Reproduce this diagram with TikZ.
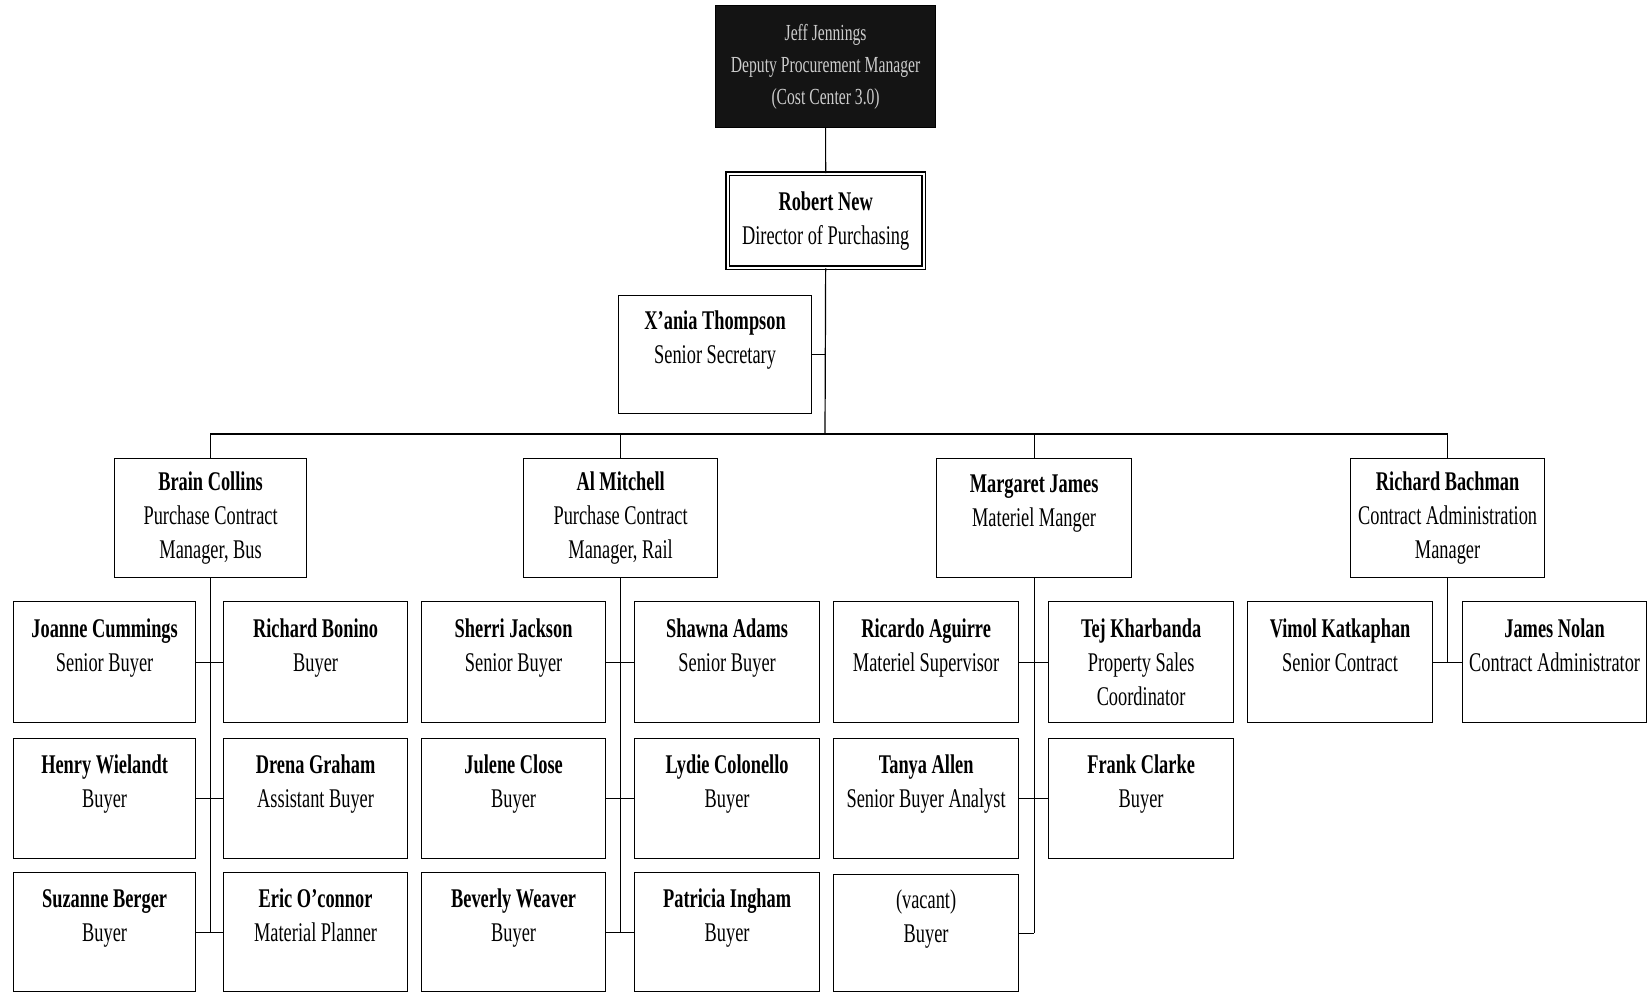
\documentclass[tikz,border=0pt]{standalone}
\usepackage{fontspec}
\setmainfont{Liberation Serif}[FakeStretch=0.68]
\begin{document}
\begin{tikzpicture}[x=1pt,y=1pt,
  box/.style={draw, line width=1.2pt, align=center, inner sep=0pt, anchor=north west,
    font=\fontsize{27}{34}\selectfont},
  topbox/.style={box, fill=black!92, text=gray!40, font=\fontsize{23}{32}\selectfont},
  dirbox/.style={box, double, double distance=2.2pt, line width=1.3pt},
  link/.style={line width=1.2pt}]
\useasboundingbox (0,0) rectangle (1648,-993);
\fill[white] (0,0) rectangle (1648,-993);
\newcommand\obox[7][box]{%
  \node[#1, minimum width={(#5-#3)*1pt}, minimum height={(#6-#4)*1pt}] (#2) at (#3,-#4) {#7};}
% top levels
\obox[topbox]{top}{715}{5}{935}{127}{Jeff Jennings\\Deputy Procurement Manager\\(Cost Center 3.0)}
\obox[dirbox]{robert}{727}{173}{923}{267}{\textbf{Robert New}\\Director of Purchasing}
\obox{sec}{618}{295}{811}{413}{\textbf{X'ania Thompson}\\Senior Secretary\\~}
% managers
\obox{brain}{114}{458}{306}{577}{\textbf{Brain Collins}\\Purchase Contract\\Manager, Bus}
\obox{al}{523}{458}{717}{577}{\textbf{Al Mitchell}\\Purchase Contract\\Manager, Rail}
\obox{marg}{936}{458}{1131}{577}{\textbf{Margaret James}\\Materiel Manger\\~}
\obox{rich}{1350}{458}{1544}{577}{\textbf{Richard Bachman}\\Contract Administration\\Manager}
% Brain group
\obox{b11}{13}{601}{195}{722}{\textbf{Joanne Cummings}\\Senior Buyer\\~}
\obox{b12}{223}{601}{407}{722}{\textbf{Richard Bonino}\\Buyer\\~}
\obox{b21}{13}{738}{195}{858}{\textbf{Henry Wielandt}\\Buyer\\~}
\obox{b22}{223}{738}{407}{858}{\textbf{Drena Graham}\\Assistant Buyer\\~}
\obox{b31}{13}{872}{195}{991}{\textbf{Suzanne Berger}\\Buyer\\~}
\obox{b32}{223}{872}{407}{991}{\textbf{Eric O'connor}\\Material Planner\\~}
% Al group
\obox{a11}{421}{601}{605}{722}{\textbf{Sherri Jackson}\\Senior Buyer\\~}
\obox{a12}{634}{601}{819}{722}{\textbf{Shawna Adams}\\Senior Buyer\\~}
\obox{a21}{421}{738}{605}{858}{\textbf{Julene Close}\\Buyer\\~}
\obox{a22}{634}{738}{819}{858}{\textbf{Lydie Colonello}\\Buyer\\~}
\obox{a31}{421}{872}{605}{991}{\textbf{Beverly Weaver}\\Buyer\\~}
\obox{a32}{634}{872}{819}{991}{\textbf{Patricia Ingham}\\Buyer\\~}
% Margaret group
\obox{m11}{833}{601}{1018}{722}{\textbf{Ricardo Aguirre}\\Materiel Supervisor\\~}
\obox{m12}{1048}{601}{1233}{722}{\textbf{Tej Kharbanda}\\Property Sales\\Coordinator}
\obox{m21}{833}{738}{1018}{858}{\textbf{Tanya Allen}\\Senior Buyer Analyst\\~}
\obox{m22}{1048}{738}{1233}{858}{\textbf{Frank Clarke}\\Buyer\\~}
\obox{m31}{833}{874}{1018}{991}{(vacant)\\Buyer\\~}
% Richard group
\obox{r11}{1247}{601}{1432}{722}{\textbf{Vimol Katkaphan}\\Senior Contract\\~}
\obox{r12}{1462}{601}{1646}{722}{\textbf{James Nolan}\\Contract Administrator\\~}
% connectors
\coordinate (bus) at (825,-434);
\draw[link] (top.south) -- (robert.north);
\draw[link] (robert.south) -- (bus);
\draw[link] (sec.east) -- (sec.east -| bus);
\draw[link] (brain.north) |- (bus) -| (rich.north);
\draw[link] (al.north) -- (al.north |- bus);
\draw[link] (marg.north) -- (marg.north |- bus);
% Brain
\draw[link] (brain.south) -- (brain.south |- b31.east);
\draw[link] (b11.east) -- (b12.west);
\draw[link] (b21.east) -- (b22.west);
\draw[link] (b31.east) -- (b32.west);
% Al
\draw[link] (al.south) -- (al.south |- a31.east);
\draw[link] (a11.east) -- (a12.west);
\draw[link] (a21.east) -- (a22.west);
\draw[link] (a31.east) -- (a32.west);
% Margaret
\draw[link] (marg.south) -- (marg.south |- m31.east);
\draw[link] (m11.east) -- (m12.west);
\draw[link] (m21.east) -- (m22.west);
\draw[link] (m31.east) -- (m31.east -| marg.south);
% Richard
\draw[link] (rich.south) -- (rich.south |- r11.east);
\draw[link] (r11.east) -- (r12.west);
\end{tikzpicture}
\end{document}
